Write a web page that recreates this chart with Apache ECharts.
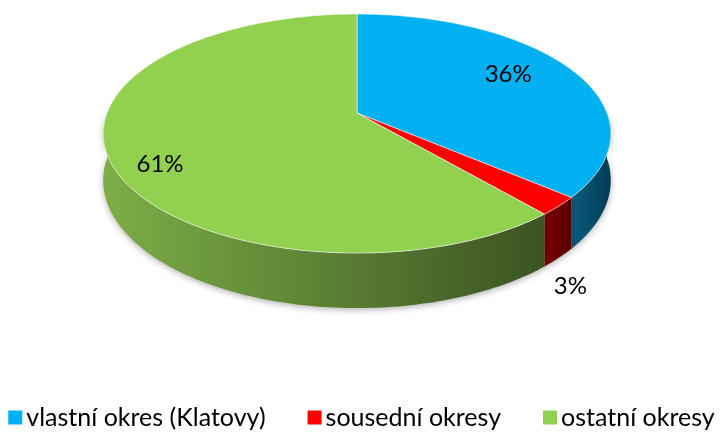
<!DOCTYPE html>
<html>
<head>
<meta charset="utf-8">
<script src="https://cdn.jsdelivr.net/npm/echarts@6/dist/echarts.min.js"></script>
<style>
  html, body { margin: 0; padding: 0; background: #fff; }
  #chart { width: 723px; height: 436px; }
</style>
</head>
<body>
<div id="chart"></div>
<script>
const categories = ['vlastní okres (Klatovy)', 'sousední okresy', 'ostatní okresy']
const values = [36.2, 2.5, 61.3]
const topColors = ['#00B0F0', '#FF0000', '#92D050']
const sideColors = [['#0a5c7e', '#023c55'], ['#7a0000', '#5a0000'], ['#7cae46', '#3c5322']]

// view of the tilted disc
const CX = 357, CY = 113, RX = 250, RY = 116, K = 0.172, H = 45.5
// label placement per slice: radius factor, extra dy, on wall side
const labelPos = [[0.7, -6, false], [1.05, 23, true], [0.8, 17, false]]

function proj(deg, r) {
  const t = deg * Math.PI / 180
  const u = r * Math.sin(t), v = -r * Math.cos(t)
  const d = 1 - K * v
  return [CX + RX * u / d, CY + RY * v / d, d]
}
function arc(a, b, r, low) {
  const pts = []
  const n = Math.max(2, Math.ceil(Math.abs(b - a)))
  for (let i = 0; i <= n; i++) {
    const p = proj(a + (b - a) * i / n, r)
    pts.push([p[0], low ? p[1] + H / p[2] : p[1]])
  }
  return pts
}

const total = values.reduce((s, v) => s + v, 0)
let acc = 0
const series = categories.map((name, i) => {
  const start = acc / total * 100
  acc += values[i]
  const end = acc / total * 100
  return {
    name,
    type: 'custom',
    coordinateSystem: 'none',
    itemStyle: { color: topColors[i] },
    data: [[start, end, values[i] / total * 100]],
    renderItem: (params, api) => {
      const a = api.value(0) * 3.6, b = api.value(1) * 3.6
      const children = []
      const s = Math.max(a, 90), e = Math.min(b, 270)
      if (s < e) {
        children.push({
          type: 'polygon',
          shape: { points: arc(s, e, 1, false).concat(arc(e, s, 1, true)) },
          style: {
            fill: new echarts.graphic.LinearGradient(0, 0, 1, 0, [
              { offset: 0, color: sideColors[i][0] },
              { offset: 1, color: sideColors[i][1] }
            ]),
            shadowColor: 'rgba(0,0,0,0.3)', shadowBlur: 6, shadowOffsetY: 2
          }
        })
      }
      children.push({
        type: 'polygon',
        shape: { points: [[CX, CY]].concat(arc(a, b, 1, false)) },
        style: { fill: topColors[i], stroke: 'rgba(255,255,255,0.7)', lineWidth: 0.8 }
      })
      const lp = labelPos[i]
      const m = proj((a + b) / 2, lp[0])
      children.push({
        type: 'text',
        x: m[0],
        y: m[1] + lp[1] + (lp[2] ? H / m[2] : 0),
        style: {
          text: Math.round(api.value(2)) + '%',
          fill: '#000', fontSize: 24, fontFamily: 'Lato',
          align: 'center', verticalAlign: 'middle'
        }
      })
      return { type: 'group', children }
    }
  }
})

const chart = echarts.init(document.getElementById('chart'))
chart.setOption({
  animation: false,
  legend: {
    data: categories,
    bottom: 1,
    left: 'center',
    icon: 'rect',
    itemWidth: 14,
    itemHeight: 14,
    itemGap: 42,
    textStyle: { color: '#000', fontSize: 25, fontFamily: 'Lato', padding: [0, 0, 0, -1] }
  },
  series
})
</script>
</body>
</html>
